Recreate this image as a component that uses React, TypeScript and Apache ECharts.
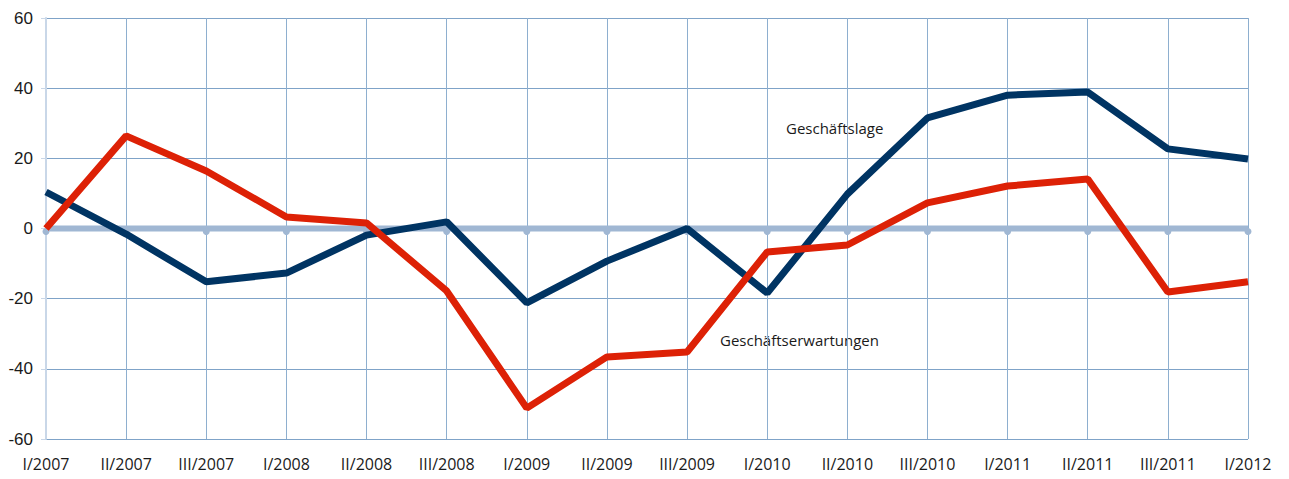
import React, { useEffect, useRef } from "react";
import * as echarts from "echarts";

const categories = [
  "I/2007", "II/2007", "III/2007", "I/2008", "II/2008", "III/2008",
  "I/2009", "II/2009", "III/2009", "I/2010", "II/2010", "III/2010",
  "I/2011", "II/2011", "III/2011", "I/2012",
];
const geschaeftslage = [10.4, -1.6, -15.2, -12.7, -1.9, 1.9, -21.2, -9.3, 0, -18.4, 9.8, 31.5, 38, 38.9, 22.7, 19.8];
const geschaeftserwartungen = [0, 26.4, 16.4, 3.3, 1.6, -17.8, -51.2, -36.6, -35.2, -6.7, -4.7, 7.3, 12.1, 14.1, -18.1, -15.2];
const zeroLine = categories.map(() => 0);
const yTicks = [-60, -40, -20, 0, 20, 40, 60];

export default function App() {
  const ref = useRef<HTMLDivElement>(null);
  useEffect(() => {
    if (!ref.current) return;
    const chart = echarts.init(ref.current, null, { renderer: "svg" });
    chart.setOption({
      animation: false,
      grid: { left: 46, right: 41, top: 18, bottom: 40, containLabel: false },
      xAxis: {
        type: "category",
        data: categories,
        boundaryGap: false,
        axisLine: { show: false },
        axisTick: { show: false },
        axisLabel: {
          color: "#1a1a1a",
          fontSize: 16,
          fontFamily: "Open Sans",
          margin: 17,
        },
        splitLine: { show: true, lineStyle: { color: "#8eafcf", width: 1 } },
      },
      yAxis: {
        type: "value",
        min: yTicks[0],
        max: yTicks[yTicks.length - 1],
        interval: 20,
        axisLine: { show: true, lineStyle: { color: "#c9d7e8", width: 2 } },
        axisTick: { show: true, length: 5, lineStyle: { color: "#c9d7e8" } },
        axisLabel: {
          color: "#1a1a1a",
          fontSize: 17,
          fontFamily: "Liberation Sans",
          margin: 13,
        },
        splitLine: { show: true, lineStyle: { color: "#7fa3c8", width: 1 } },
      },
      series: [
        {
          type: "line",
          data: zeroLine,
          lineStyle: { color: "#a0b7d3", width: 6 },
          itemStyle: { color: "#a0b7d3" },
          symbol: "circle",
          symbolSize: 7,
          symbolOffset: [0, 3],
          showSymbol: true,
          silent: true,
          z: 1,
        },
        {
          name: "Geschäftslage",
          type: "line",
          data: geschaeftslage,
          lineStyle: { color: "#003463", width: 7 },
          itemStyle: { color: "#003463" },
          symbol: "none",
          z: 3,
        },
        {
          name: "Geschäftserwartungen",
          type: "line",
          data: geschaeftserwartungen,
          lineStyle: { color: "#dd2106", width: 7 },
          itemStyle: { color: "#dd2106" },
          symbol: "none",
          z: 4,
        },
      ],
      graphic: [
        {
          type: "text",
          left: 786,
          top: 120,
          style: { text: "Geschäftslage", fontSize: 15, fontFamily: "Open Sans", fill: "#1a1a1a" },
        },
        {
          type: "text",
          left: 720,
          top: 332,
          style: { text: "Geschäftserwartungen", fontSize: 15, fontFamily: "Open Sans", fill: "#1a1a1a" },
        },
      ],
    });
    return () => chart.dispose();
  }, []);
  return <div ref={ref} style={{ width: 1289, height: 479, margin: -8 }} />;
}
